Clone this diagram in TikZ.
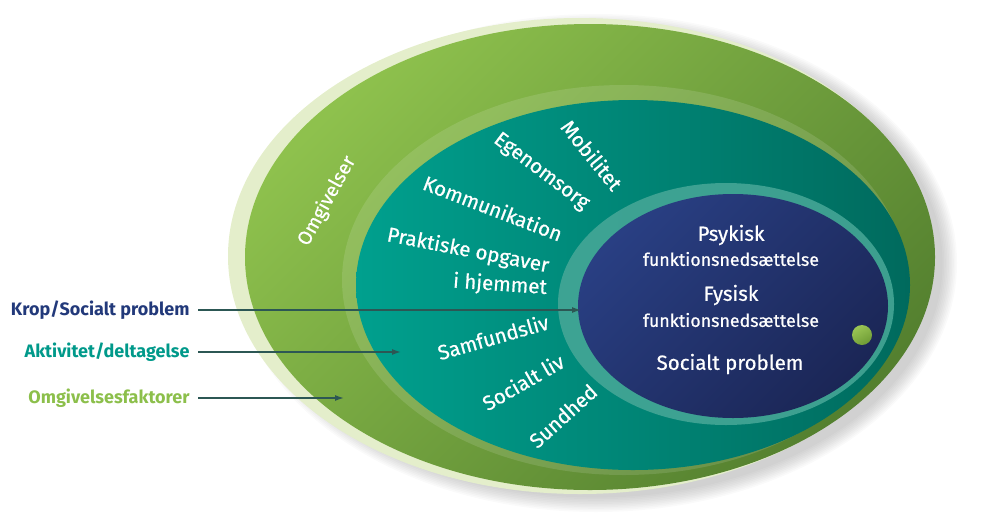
\documentclass[tikz,border=0pt]{standalone}
\usepackage{fontspec}
\setmainfont{Fira Sans}
\newfontfamily\firamed[FakeBold=0.6]{Fira Sans}
\usepackage{tikz}
\usetikzlibrary{arrows.meta, positioning, shadows}
\definecolor{cHalo}{HTML}{E4EECB}
\definecolor{cGreenL}{HTML}{8EC14D}
\definecolor{cGreenD}{HTML}{54802F}
\definecolor{cTealL}{HTML}{00A08E}
\definecolor{cTealD}{HTML}{006A5D}
\definecolor{cRing}{HTML}{48A898}
\definecolor{cBlueL}{HTML}{293F83}
\definecolor{cBlueD}{HTML}{1B2656}
\definecolor{cDotL}{HTML}{9BC655}
\definecolor{cDotD}{HTML}{6E9B35}
\definecolor{cArrow}{HTML}{2C5754}
\definecolor{cKrop}{HTML}{22397A}
\definecolor{cAkt}{HTML}{00998A}
\definecolor{cOmg}{HTML}{8CBF4B}
\tikzset{
  sidetekst/.style={anchor=east, font=\fontsize{18}{20}\selectfont\bfseries},
  hvidtekst/.style={text=white, inner sep=0pt, font=\fontsize{20.5}{22}\selectfont\firamed},
  pil/.style={-{Latex[length=9pt, width=6pt]}, line width=1.4pt, draw=cArrow},
}

\begin{document}
\begin{tikzpicture}[x=1pt, y=-1pt]
    \useasboundingbox (0,0) rectangle (1003,517);
    % Shadow
    \foreach \i in {1,...,10}
      \fill[black, opacity=0.018] (596,263) ellipse [x radius=345+1.6*\i, y radius=233+1.6*\i];
    % Omgivelser
    \fill[cHalo] (580,256) ellipse [x radius=352, y radius=238];
    \shade[top color=cGreenL, bottom color=cGreenD, shading angle=45] (590,257) ellipse [x radius=345, y radius=233];
    \node[hvidtekst, font=\fontsize{19.5}{22}\selectfont\firamed, rotate=61] (omg) at (327,201) {Omgivelser};
    % Aktivitet/deltagelse
    \fill[white, opacity=0.12] (624,280) ellipse [x radius=282, y radius=195];
    \shade[left color=cTealL, right color=cTealD] (633,285) ellipse [x radius=277, y radius=185];
    \node[hvidtekst, rotate=-51] (mob) at (592,155) {Mobilitet};
    \node[hvidtekst, rotate=-37] (egen) at (541,172) {Egenomsorg};
    \node[hvidtekst, rotate=-21] (komm) at (493,208) {Kommunikation};
    \node[hvidtekst, rotate=-11] (prak) at (468,251) {Praktiske opgaver};
    \node[hvidtekst, rotate=-4] (hjem) at (500,285) {i hjemmet};
    \node[hvidtekst, rotate=16] (samf) at (493,337) {Samfundsliv};
    \node[hvidtekst, rotate=30] (soc) at (523,382) {Socialt liv};
    \node[hvidtekst, rotate=42] (sund) at (563,416) {Sundhed};
    % Krop/Socialt problem
    \fill[cRing, opacity=0.85] (726,304) ellipse [x radius=168, y radius=121];
    \shade[top color=cBlueL, bottom color=cBlueD, shading angle=45] (733,306) ellipse [x radius=155, y radius=112];
    \shade[top color=cDotL, bottom color=cDotD, shading angle=30] (862,335) circle [radius=10];
    \node[hvidtekst] (psyk) at (731,235) {Psykisk};
    \node[hvidtekst, font=\fontsize{17.8}{20}\selectfont\firamed] (psykf) at (731,259) {funktionsnedsættelse};
    \node[hvidtekst] (fys) at (731,295) {Fysisk};
    \node[hvidtekst, font=\fontsize{17.8}{20}\selectfont\firamed] (fysf) at (731,320) {funktionsnedsættelse};
    \node[hvidtekst] (socp) at (730,364) {Socialt problem};
    % Labels and arrows
    \node[sidetekst, text=cKrop] (krop) at (193,310) {Krop/Socialt problem};
    \node[sidetekst, text=cAkt] (akt) at (193,352) {Aktivitet/deltagelse};
    \node[sidetekst, text=cOmg] (omgf) at (193,398) {Omgivelsesfaktorer};
    \coordinate (kropend) at (581,310);
    \coordinate (aktend) at (401,352);
    \coordinate (omgend) at (344,398);
    \draw[pil] ([xshift=5pt]krop.east) -- (kropend);
    \draw[pil] ([xshift=5pt]akt.east) -- (aktend);
    \draw[pil] ([xshift=5pt]omgf.east) -- (omgend);
\end{tikzpicture}
\end{document}
